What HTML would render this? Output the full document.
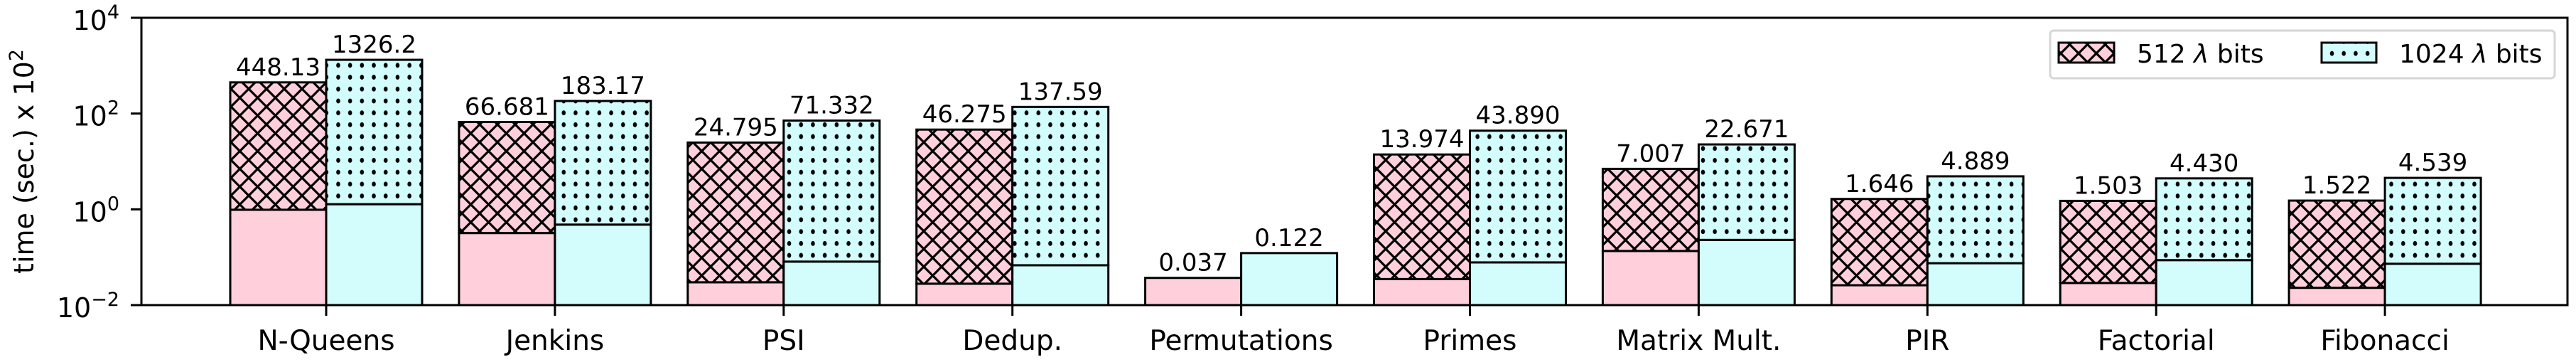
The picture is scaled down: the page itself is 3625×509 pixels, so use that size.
<!DOCTYPE html>
<html><head><meta charset="utf-8"><style>
html,body{margin:0;padding:0;background:#fff;}
svg{display:block;font-family:"DejaVu Sans","Liberation Sans",sans-serif;}
</style></head><body>
<svg id="chart" width="3625" height="509" viewBox="0 0 3625 509" xmlns="http://www.w3.org/2000/svg">
<defs>
<pattern id="hx" patternUnits="userSpaceOnUse" width="25" height="25">
<rect width="25" height="25" fill="#ffd0dc"/>
<path d="M0,0 L25,25 M25,0 L0,25" stroke="#000" stroke-width="3.2"/>
</pattern>
<pattern id="hd" patternUnits="userSpaceOnUse" width="16.7" height="16.7">
<rect width="16.7" height="16.7" fill="#d3fcfc"/>
<ellipse cx="8.35" cy="8.35" rx="2.8" ry="3.4" fill="#000"/>
</pattern>
</defs>
<g id="plot"></g>
</svg>
<script>
const categories = ["N-Queens","Jenkins","PSI","Dedup.","Permutations","Primes","Matrix Mult.","PIR","Factorial","Fibonacci"];
const total512 = [448.13,66.681,24.795,46.275,0.037,13.974,7.007,1.646,1.503,1.522];
const total1024 = [1326.2,183.17,71.332,137.59,0.122,43.890,22.671,4.889,4.430,4.539];
const base512 = [0.98,0.32,0.030,0.028,0.037,0.035,0.135,0.026,0.029,0.023];
const base1024 = [1.28,0.48,0.081,0.068,0.122,0.078,0.23,0.075,0.087,0.073];
const labels512 = ["448.13","66.681","24.795","46.275","0.037","13.974","7.007","1.646","1.503","1.522"];
const labels1024 = ["1326.2","183.17","71.332","137.59","0.122","43.890","22.671","4.889","4.430","4.539"];
const yTickExp = [-2,0,2,4];

const NS="http://www.w3.org/2000/svg";
const L=199,R=3613,T=25,B=429;
const x0=459,step=321.9,bw=135;
function xs(i){return x0+i*step;}
function ys(v){return B-(Math.log10(v)+2)*(B-T)/6;}
const g=document.getElementById('plot');
function el(tag,attrs,parent){const e=document.createElementNS(NS,tag);for(const k in attrs)e.setAttribute(k,attrs[k]);(parent||g).appendChild(e);return e;}

function drawBar(i,left,base,total,fill,pat,label,name){
  const yb=ys(base), yt=ys(total);
  const r1=el('rect',{x:left,y:yb,width:bw,height:B-yb,fill:fill,stroke:'#000','stroke-width':3});
  
  
  if(total>base){
    const r2=el('rect',{x:left,y:yt,width:bw,height:yb-yt,fill:pat,stroke:'#000','stroke-width':3});
    
    
  }
  const t=el('text',{x:left+bw/2,y:yt-10,'font-size':34,'text-anchor':'middle',fill:'#000'});
  t.textContent=label;
  
  
}
categories.forEach((c,i)=>{
  const cx=xs(i);
  drawBar(i,cx-bw,base512[i],total512[i],'#ffd0dc','url(#hx)',labels512[i],'bar-512-'+i);
  drawBar(i,cx,base1024[i],total1024[i],'#d3fcfc','url(#hd)',labels1024[i],'bar-1024-'+i);
  const tk=el('line',{x1:cx,y1:B,x2:cx,y2:444,stroke:'#000','stroke-width':3});
  
  
  const tl=el('text',{x:cx,y:492,'font-size':39,'text-anchor':'middle'});
  tl.textContent=c;
  
  
});
const frame=el('rect',{x:L,y:T,width:R-L,height:B-T,fill:'none',stroke:'#000','stroke-width':3});


yTickExp.forEach(e=>{
  const y=ys(Math.pow(10,e));
  const tk=el('line',{x1:184,y1:y,x2:L,y2:y,stroke:'#000','stroke-width':3});
  
  
  const t=el('text',{x:168,y:y+17,'font-size':38,'text-anchor':'end'});
  
  
  const a=el('tspan',{},t);a.textContent='10';
  const b=el('tspan',{dy:-16,'font-size':27},t);b.textContent=(e<0?'\u2212':'')+Math.abs(e);
});
</script>
<svg style="position:absolute;left:0;top:0" width="3625" height="509">
<text transform="translate(47,227) rotate(-90)" font-family="DejaVu Sans, Liberation Sans, sans-serif" font-size="38" text-anchor="middle">time (sec.) x 10<tspan dy="-15" font-size="27">2</tspan></text>
<g>
<rect x="2885" y="43" width="710" height="67" rx="5" fill="#fff" stroke="#d6d6d6" stroke-width="3"/>
<rect x="2897" y="60" width="78" height="28" fill="url(#hx)" stroke="#000" stroke-width="3"/>
<text x="3007" y="88" font-family="DejaVu Sans, Liberation Sans, sans-serif" font-size="36">512 <tspan font-style="italic">λ</tspan> bits</text>
<rect x="3267" y="60" width="77" height="28" fill="url(#hd)" stroke="#000" stroke-width="3"/>
<text x="3376" y="88" font-family="DejaVu Sans, Liberation Sans, sans-serif" font-size="36">1024 <tspan font-style="italic">λ</tspan> bits</text>
</g>
</svg>
</body></html>
